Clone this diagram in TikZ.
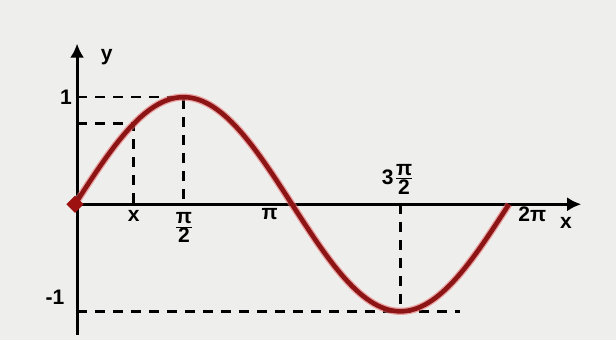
\documentclass[tikz,border=0pt]{standalone}
\usepackage{amsmath}
\usepackage{fontspec}
\setmainfont{Liberation Sans}
\usepackage{tikz}
\usetikzlibrary{arrows.meta,shapes.geometric}
\definecolor{SineRed}{RGB}{140,20,20}
\definecolor{SineGlow}{RGB}{230,110,110}
\definecolor{PaperGrey}{RGB}{238,238,236}
\newcommand{\halfof}[1]{\ensuremath{\frac{\mbox{#1}}{\mbox{2}}}}

\begin{document}
\begin{tikzpicture}[
  x=34.5pt, y=53.5pt,
  axis/.style={line width=1.5pt,-{Latex[length=7pt,width=7pt]}},
  guide/.style={line width=1.3pt,dash pattern=on 5pt off 4pt},
  lbl/.style={font=\bfseries\fontsize{10.5}{10.5}\selectfont,inner sep=0pt},
]
% background and bounding box
\fill[PaperGrey] (-1.086,-1.271) rectangle (7.833,1.907);
\useasboundingbox (-1.086,-1.271) rectangle (7.833,1.907);

\coordinate (o) at (0,0);
\coordinate (xend) at (7.33,0);
\coordinate (ybot) at (0.03,-1.22);
\coordinate (ytop) at (0.03,1.50);
\coordinate (p) at (0.85,{sin(0.85 r)});
\coordinate (pax) at (0.85,0);
\coordinate (pay) at (0.03,{sin(0.85 r)});
\coordinate (top) at ({pi/2},1);
\coordinate (topx) at ({pi/2},0);
\coordinate (topy) at (0.03,1);
\coordinate (bot) at ({3*pi/2},-1);
\coordinate (botx) at ({3*pi/2},0);
\coordinate (boty) at (0.03,-1);
\coordinate (botend) at (5.57,-1);

% guides
\draw[guide] (topy) -- (top) -- (topx);
\draw[guide] (pay) -- (p) -- (pax);
\draw[guide] (boty) -- (botend);
\draw[guide] (botx) -- (bot);

% axes
\draw[axis] (o) -- (xend);
\draw[axis] (ybot) -- (ytop);

% the sine
\draw[SineGlow,line width=3.6pt,opacity=0.6] plot[domain=0:2*pi,samples=120] (\x,{sin(\x r)});
\draw[SineRed,line width=2.3pt] plot[domain=0:2*pi,samples=120] (\x,{sin(\x r)});
\node[diamond,fill=SineRed!85!red,inner sep=2.2pt] (dot) at (o) {};

% labels
\node[lbl] (ylab) at (0.46,1.37) {y};
\node[lbl] (one) at (-0.13,1.0) {1};
\node[lbl] (mone) at (-0.29,-0.87) {-1};
\node[lbl] (xpt) at (0.85,-0.11) {x};
\node[lbl] (halfpi) at (1.578,-0.22) {\halfof{π}};
\node[lbl] (pilab) at (2.82,-0.095) {π};
\node[lbl] (threehalf) at (4.68,0.23) {3\halfof{π}};
\node[lbl] (twopi) at (6.62,-0.095) {2π};
\node[lbl] (xlab) at (7.11,-0.17) {x};
\end{tikzpicture}
\end{document}
